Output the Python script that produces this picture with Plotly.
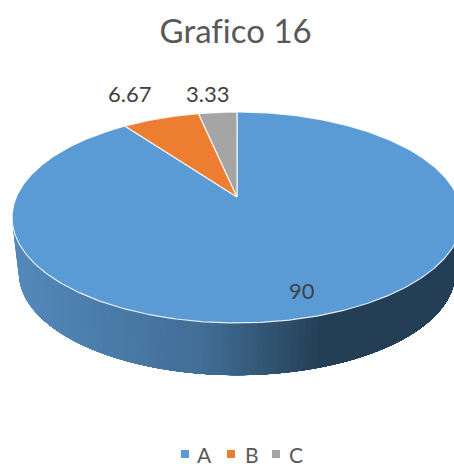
"""Grafico 16: perspective 3D pie, drawn as filled polygons (Plotly has no 3D pie)."""

import numpy as np
import plotly.graph_objects as go

FONT = "Lato, Carlito, Calibri, sans-serif"
TITLE = "Grafico 16"
CATEGORIES = ["A", "B", "C"]
VALUES = [90, 6.67, 3.33]
VALUE_LABELS = ["90", "6.67", "3.33"]
COLORS = ["#5B9BD5", "#ED7D31", "#A5A5A5"]
SIDE_STOPS = [(12, (84, 137, 187)), (200, (66, 110, 150)), (320, (36, 63, 85)), (454, (36, 63, 85))]

# projection of the disc, pixel units
CX, CY = 237, 197
KP = 0.194
AY, BX = 101.5, 220.7
BOTTOM_SCALE = 0.97
BOTTOM_CY = 253

# hand placed legend, plotly's own has too much padding
LEGEND_MARK_X = [185, 231, 276]
LEGEND_TEXT_X = [195, 243, 287]
LEGEND_Y = 454


def project(theta, r=1.0, scale=1.0, cy=CY):
    x = r * np.sin(theta)
    y = r * np.cos(theta)
    d = 1 + KP * y
    return CX + scale * BX * x / d, cy - scale * AY * y / d


def side_color(x):
    xs = [s[0] for s in SIDE_STOPS]
    rgb = [np.interp(x, xs, [s[1][i] for s in SIDE_STOPS]) for i in range(3)]
    return "rgb(%d,%d,%d)" % tuple(rgb)


fig = go.Figure()

# side wall: painted left to right, each polygon covers the rest, so no seams
right_end = np.radians(98)
for t in np.linspace(np.radians(262), np.radians(100), 110):
    ts = np.linspace(right_end, t, 60)
    xt, yt = project(ts)
    xb, yb = project(ts[::-1], scale=BOTTOM_SCALE, cy=BOTTOM_CY)
    fig.add_trace(go.Scatter(
        x=np.r_[xt, xb], y=np.r_[yt, yb],
        mode="lines", fill="toself", fillcolor=side_color(xt[-1]),
        line=dict(width=0),
        hoverinfo="skip", showlegend=False,
    ))

# top face
total = sum(VALUES)
start = 0.0
mids = []
for value, color in zip(VALUES, COLORS):
    end = start + value / total * 2 * np.pi
    ts = np.linspace(start, end, max(int(value * 6), 12))
    xs, ys = project(ts)
    fig.add_trace(go.Scatter(
        x=np.r_[CX, xs, CX], y=np.r_[CY, ys, CY],
        mode="lines", fill="toself", fillcolor=color,
        line=dict(color="rgba(255,255,255,0.85)", width=1.2),
        hoverinfo="skip", showlegend=False,
    ))
    mids.append((start + end) / 2)
    start = end

# data labels
offsets = [(-2, 1), (-31, 25), (-10, 19)]
radii = [0.83, 1.0, 1.0]
for label, mid, r, (dx, dy) in zip(VALUE_LABELS, mids, radii, offsets):
    lx, ly = project(mid, r=r)
    fig.add_annotation(
        x=lx, y=ly, text=label, showarrow=False, xshift=dx, yshift=dy,
        font=dict(size=22, color="#404040", family=FONT),
    )

# legend
fig.add_trace(go.Scatter(
    x=LEGEND_MARK_X, y=[LEGEND_Y] * len(CATEGORIES), mode="markers",
    marker=dict(symbol="square", size=8, color=COLORS),
    hoverinfo="skip", showlegend=False,
))
for name, tx in zip(CATEGORIES, LEGEND_TEXT_X):
    fig.add_annotation(
        x=tx, y=LEGEND_Y, text=name, showarrow=False, xanchor="left",
        font=dict(size=21, color="#595959", family=FONT),
    )

fig.update_layout(
    width=454, height=464,
    margin=dict(t=0, b=0, l=0, r=0),
    title=dict(
        text=TITLE, x=0.519, xanchor="center", y=0.932, yanchor="middle",
        font=dict(size=33, color="#595959", family=FONT),
    ),
    xaxis=dict(range=[0, 454], visible=False, fixedrange=True),
    yaxis=dict(range=[464, 0], visible=False, fixedrange=True),
    paper_bgcolor="#ffffff", plot_bgcolor="#ffffff",
    font=dict(family=FONT),
    showlegend=False,
)

fig.write_html(
    "out.html",
    config=dict(displayModeBar=False),
    post_script=(
        "document.body.style.margin='0';document.body.style.overflow='hidden';"
        "var s=document.createElement('style');"
        "s.textContent='text{font-variant-ligatures:none !important}';"
        "document.head.appendChild(s);"
    ),
)
